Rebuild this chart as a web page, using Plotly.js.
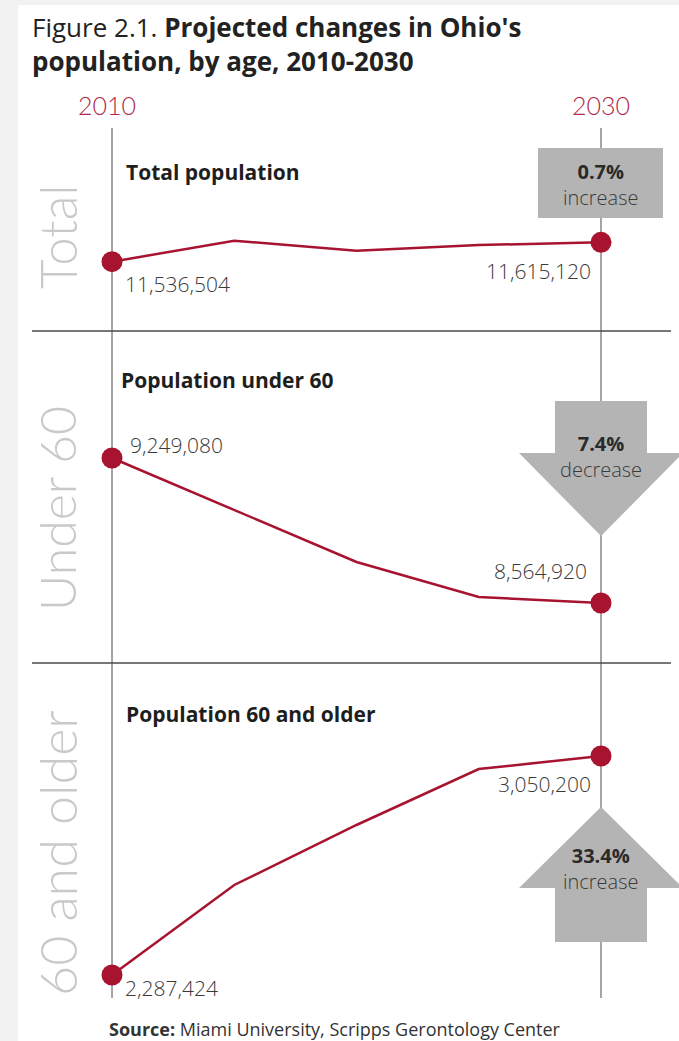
<!DOCTYPE html>
<html><head><meta charset="utf-8">
<script src="https://cdn.plot.ly/plotly-3.0.1.min.js"></script>
<style>html,body{margin:0;padding:0;background:#f2f2f2;} #chart{position:absolute;left:0;top:0;width:679px;height:1041px;}</style>
</head><body><div id="chart"></div>
<script>
// ---- data ----
const years = [2010, 2015, 2020, 2025, 2030];
const totalPop = [11536504, 11621600, 11581000, 11604000, 11615120];
const under60 = [9249080, 9003800, 8758400, 8593300, 8564920];
const over60 = [2287424, 2600900, 2809900, 3004900, 3050200];
const panelTitles = ['Total population', 'Population under 60', 'Population 60 and older'];
const sideLabels = ['Total', 'Under 60', '60 and older'];
const changePct = ['0.7%', '7.4%', '33.4%'];
const changeWord = ['increase', 'decrease', 'increase'];
const yearLabels = ['2010', '2030'];

// ---- helpers (pixel -> paper) ----
const W = 679, H = 1041;
const px = x => x / W;
const py = y => 1 - y / H;
const fmt = v => v.toLocaleString('en-US');

const RED = '#a8132f';
const FONT = '"Open Sans", Lato, sans-serif';
const LIGHT = 'Lato, "Open Sans", sans-serif';
const TXT = '#2a2a2a';

const series = [totalPop, under60, over60];
const yaxes = ['y', 'y2', 'y3'];

const traces = series.map((s, i) => ({
  x: years, y: s, xaxis: 'x', yaxis: yaxes[i],
  mode: 'lines+markers', type: 'scatter',
  line: {color: RED, width: 2.5},
  marker: {color: RED, opacity: 1, line: {width: 0},
           size: s.map((v, k) => (k === 0 || k === s.length - 1) ? 21 : 0)},
  cliponaxis: false, hoverinfo: 'skip', showlegend: false
}));

const axHidden = {visible: false, fixedrange: true};
const layout = {
  width: W, height: H,
  margin: {l: 0, r: 0, t: 0, b: 0},
  paper_bgcolor: '#f2f2f2', plot_bgcolor: 'rgba(0,0,0,0)',
  showlegend: false,
  font: {family: FONT, color: TXT},
  xaxis: Object.assign({range: [2005.419, 2033.19], domain: [0, 1]}, axHidden),
  yaxis: Object.assign({domain: [py(331), py(128)], range: [11255673, 12078310]}, axHidden),
  yaxis2: Object.assign({domain: [py(663), py(331)], range: [8281828, 9848304], anchor: 'x'}, axHidden),
  yaxis3: Object.assign({domain: [py(1000), py(663)], range: [2200349, 3374120], anchor: 'x'}, axHidden),
  shapes: [],
  annotations: []
};

// white card
layout.shapes.push({type: 'rect', xref: 'paper', yref: 'paper', x0: px(18), x1: 1, y0: 0, y1: py(5),
  fillcolor: '#ffffff', line: {width: 0}, layer: 'below'});
// vertical year lines
yearLabels.forEach(yr => {
  layout.shapes.push({type: 'line', xref: 'x', yref: 'paper', x0: +yr, x1: +yr, y0: py(998), y1: py(128),
    line: {color: '#6a6a6a', width: 1.2}, layer: 'below'});
});
// horizontal separators
[331, 663].forEach(y => {
  layout.shapes.push({type: 'line', xref: 'paper', yref: 'paper', x0: px(32), x1: px(671), y0: py(y), y1: py(y),
    line: {color: '#4a4a4a', width: 1.5}, layer: 'below'});
});
// change markers (box / arrows)
const GREY = '#b4b4b4';
const toPath = pts => 'M ' + pts.map(p => px(p[0]).toFixed(5) + ',' + py(p[1]).toFixed(5)).join(' L ') + ' Z';
layout.shapes.push({type: 'path', xref: 'paper', yref: 'paper', fillcolor: GREY, line: {width: 0},
  path: toPath([[538,148],[663,148],[663,218],[538,218]])});
layout.shapes.push({type: 'path', xref: 'paper', yref: 'paper', fillcolor: GREY, line: {width: 0},
  path: toPath([[555,401],[647,401],[647,453],[683,453],[601,536],[519,453],[555,453]])});
layout.shapes.push({type: 'path', xref: 'paper', yref: 'paper', fillcolor: GREY, line: {width: 0},
  path: toPath([[601,807],[683,888],[647,888],[647,942],[555,942],[555,888],[519,888]])});

const ann = (text, x, y, opts) => layout.annotations.push(Object.assign({
  text: text, x: px(x), y: py(y), xref: 'paper', yref: 'paper', showarrow: false,
  xanchor: 'left', yanchor: 'middle', font: {family: FONT, size: 19, color: TXT}
}, opts || {}));

// title (two lines, one annotation)
ann('Figure 2.1. <b>Projected changes in Ohio\'s</b><br><b>population, by age, 2010-2030</b>', 30, 44,
    {align: 'left', font: {family: FONT, size: 26, color: '#222', weight: 400}});
// year labels
ann(yearLabels[0], 107, 105, {xanchor: 'center', font: {family: LIGHT, size: 25, color: '#b0284a', weight: 300}});
ann(yearLabels[1], 601, 105, {xanchor: 'center', font: {family: LIGHT, size: 25, color: '#b0284a', weight: 300}});

// side labels
const sideY = [236, 508, 853];
const sideSize = [51, 50, 52];
sideLabels.forEach((t, i) => ann(t, 57, sideY[i], {xanchor: 'center', textangle: -90,
  font: {family: LIGHT, size: sideSize[i], color: '#c9c9c9', weight: 300}}));

// panel titles
const titlePos = [[124, 172], [119, 380], [124, 714]];
panelTitles.forEach((t, i) => ann('<b>' + t + '</b>', titlePos[i][0], titlePos[i][1], {font: {family: FONT, size: 21, color: '#1e1e1e'}}));

// value labels
const valFont = {family: FONT, size: 21, color: '#3a3a3a', weight: 300};
ann(fmt(totalPop[0]), 123, 284, {font: valFont});
ann(fmt(totalPop[4]), 593, 271, {xanchor: 'right', font: valFont});
ann(fmt(under60[0]), 128, 445, {font: valFont});
ann(fmt(under60[4]), 589, 571, {xanchor: 'right', font: valFont});
ann(fmt(over60[4]), 593, 784, {xanchor: 'right', font: valFont});
ann(fmt(over60[0]), 123, 988, {font: valFont});

// change texts (two lines in one annotation)
const pctY = [185, 456, 868];
changePct.forEach((t, i) => {
  ann('<span style="font-weight:bold;font-size:20px;color:#2a2a2a">' + t + '</span><br>' + changeWord[i],
      601, pctY[i], {xanchor: 'center', align: 'center',
      font: {family: FONT, size: 20, color: '#3a3a3a', weight: 300}});
});

// source
ann('<b>Source:</b> Miami University, Scripps Gerontology Center', 107, 1029, {font: {family: FONT, size: 18, color: '#333'}});

Plotly.newPlot('chart', traces, layout, {staticPlot: true, displayModeBar: false});
</script></body></html>
